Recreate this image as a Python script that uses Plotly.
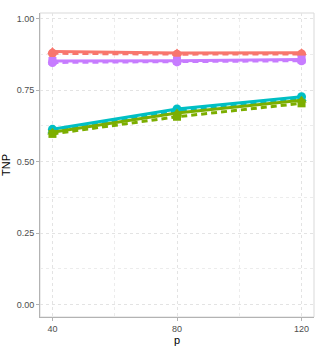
import plotly.graph_objects as go

p = [40, 80, 120]

red_solid = [0.885, 0.880, 0.881]
red_dashed = [0.879, 0.876, 0.877]
green_solid = [0.603, 0.670, 0.715]
green_dashed = [0.597, 0.657, 0.704]
cyan_solid = [0.613, 0.684, 0.727]
cyan_dashed = [0.607, 0.678, 0.720]
purple_solid = [0.852, 0.853, 0.857]
purple_dashed = [0.847, 0.849, 0.853]

RED = "#F8766D"
GREEN = "#7CAE00"
CYAN = "#00BFC4"
PURPLE = "#C77CFF"

series = [
    (red_dashed, RED, "6px,4px", "circle"),
    (red_solid, RED, "solid", "triangle-up"),
    (purple_dashed, PURPLE, "6px,4px", "circle"),
    (purple_solid, PURPLE, "solid", "square"),
    (cyan_dashed, CYAN, "6px,4px", "triangle-up"),
    (cyan_solid, CYAN, "solid", "circle"),
    (green_solid, GREEN, "solid", "triangle-up"),
    (green_dashed, GREEN, "6px,4px", "square"),
]

fig = go.Figure()
for vals, col, dash, sym in series:
    fig.add_trace(go.Scatter(
        x=p, y=vals, mode="lines+markers",
        line=dict(color=col, width=3, dash=dash),
        marker=dict(color=col, size=9 if sym != "square" else 8, symbol=sym),
        showlegend=False,
    ))

fig.update_layout(
    width=319, height=348,
    margin=dict(l=39.5, r=5, t=13, b=31),
    paper_bgcolor="white", plot_bgcolor="white",
    font=dict(family="Liberation Sans, Arial, sans-serif", color="#4d4d4d", size=9),
)
fig.update_xaxes(
    range=[36, 124], tickvals=[40, 80, 120], ticktext=["40", "80", "120"],
    showgrid=True, gridcolor="#e3e3e3", griddash="3px,3px", gridwidth=1,
    minor=dict(tickvals=[60, 100], showgrid=True, gridcolor="#ececec", gridwidth=1),
    showline=True, linecolor="#b3b3b3", linewidth=1,
    ticks="outside", ticklen=3, tickcolor="#b3b3b3",
    zeroline=False,
    title=dict(text="p", font=dict(size=11, color="black"), standoff=2),
    tickfont=dict(size=9, color="#4d4d4d"),
)
fig.update_yaxes(
    range=[-0.0435, 1.02], tickvals=[0, 0.25, 0.5, 0.75, 1.0],
    ticktext=["0.00", "0.25", "0.50", "0.75", "1.00"],
    showgrid=True, gridcolor="#e3e3e3", griddash="3px,3px", gridwidth=1,
    minor=dict(tickvals=[0.125, 0.375, 0.625, 0.875], showgrid=True, gridcolor="#ececec", gridwidth=1),
    showline=True, linecolor="#b3b3b3", linewidth=1,
    ticks="outside", ticklen=3, tickcolor="#b3b3b3",
    zeroline=False,
    title=dict(text="TNP", font=dict(size=11, color="black"), standoff=4),
    tickfont=dict(size=9, color="#4d4d4d"),
)
fig.add_shape(type="rect", xref="paper", yref="paper", x0=0, y0=0, x1=1, y1=1,
              line=dict(color="#d9d9d9", width=1), layer="below")
fig.write_html("out.html", config={"displayModeBar": False},
               post_script="document.body.style.margin='0px';")
